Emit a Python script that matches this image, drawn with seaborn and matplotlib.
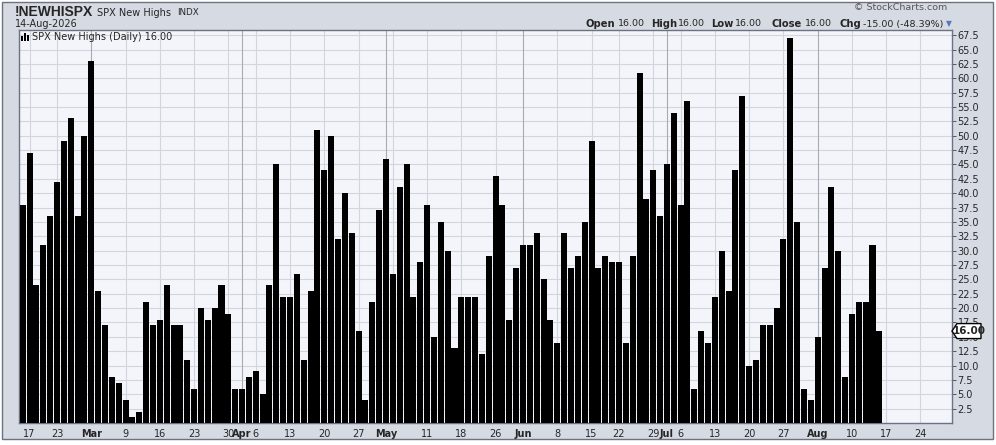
import pandas as pd
import matplotlib
matplotlib.use("Agg")
import matplotlib.pyplot as plt
import seaborn as sns
from matplotlib.patches import Rectangle, Polygon
from matplotlib.transforms import IdentityTransform

W, H = 996, 445

# trading days, NYSE holidays taken out
first_day = "2026-02-13"
last_day = "2026-08-14"
axis_end = "2026-08-28"
holidays = ["2026-02-16", "2026-04-03", "2026-05-25", "2026-06-19", "2026-07-03"]

# daily new highs, month by month
feb_highs = [38, 47, 24, 31, 36, 42, 49, 53, 36, 50]
mar_highs = [63, 23, 17, 8, 7, 4, 1, 2, 21, 17, 18, 24, 17, 17, 11, 6, 20, 18, 20, 24, 19, 6]
apr_highs = [6, 8, 9, 5, 24, 45, 22, 22, 26, 11, 23, 51, 44, 50, 32, 40, 33, 16, 4, 21, 37]
may_highs = [46, 26, 41, 45, 22, 28, 38, 15, 35, 30, 13, 22, 22, 22, 12, 29, 43, 38, 18, 27]
jun_highs = [31, 31, 33, 25, 18, 14, 33, 27, 29, 35, 49, 27, 29, 28, 28, 14, 29, 61, 39, 44, 36]
jul_highs = [45, 54, 38, 56, 6, 16, 14, 22, 30, 23, 44, 57, 10, 11, 17, 17, 20, 32, 67, 35, 6, 4]
aug_highs = [15, 27, 41, 30, 8, 19, 21, 21, 31, 16]

y_ticks = [2.5, 5, 7.5, 10, 12.5, 15, 17.5, 20, 22.5, 25, 27.5, 30, 32.5, 35, 37.5,
           40, 42.5, 45, 47.5, 50, 52.5, 55, 57.5, 60, 62.5, 65, 67.5]

quote_parts = ["Open", "16.00", "High", "16.00", "Low", "16.00", "Close", "16.00",
               "Chg", "-15.00 (-48.39%)"]
quote_x = [586, 618, 651, 678, 711, 735, 771, 805, 839, 863]

highs = feb_highs + mar_highs + apr_highs + may_highs + jun_highs + jul_highs + aug_highs
days = pd.bdate_range(first_day, axis_end, freq="C", holidays=holidays)
df = pd.DataFrame({"slot": range(len(highs)), "highs": highs, "date": days[:len(highs)]})

panel_col = "#d6dae3"
plot_col = "#f4f5fa"
frame_col = "#6d7280"


def fxy(x, y):
    # image pixel -> figure fraction
    return x / W, 1 - y / H


sns.set_style("white")
plt.rcParams["font.family"] = ["DejaVu Sans"]

fig = plt.figure(figsize=(W / 100, H / 100), dpi=100, facecolor="white")
fig.patches.append(Rectangle(fxy(2, 439), 991 / W, 437 / H, transform=fig.transFigure,
                             facecolor=panel_col, edgecolor=frame_col, lw=1, zorder=-10))

ax = fig.add_axes([19 / W, 1 - 423 / H, (952 - 19) / W, (423 - 30) / H])
ax.set_facecolor(plot_col)

sns.barplot(data=df, x="slot", y="highs", native_scale=True, color="black",
            saturation=1, width=0.88, errorbar=None, linewidth=0, ax=ax, zorder=3)

ax.set_xlim(-0.55, 135.6)
ax.set_ylim(0, 68.4)
ax.set_xlabel("")
ax.set_ylabel("")

# grid: every 2.5 across, every week start down, month starts darker
for v in y_ticks:
    ax.axhline(v, color="#d3d5dc", lw=0.8, zorder=1)

tick_pos, tick_lab, tick_bold = [], [], []
month_pos = []
for i in range(1, len(days)):
    d, p = days[i], days[i - 1]
    new_week = d.isocalendar().week != p.isocalendar().week
    if d.month != p.month:
        ax.axvline(i, color="#a8abb4", lw=0.8, zorder=1)
        tick_pos.append(i)
        tick_lab.append(d.strftime("%b"))
        tick_bold.append(True)
        month_pos.append(i)
        if new_week:
            continue
    if new_week:
        ax.axvline(i, color="#d3d5dc", lw=0.8, zorder=1)
        # no day number right next to a month name
        if month_pos and i - month_pos[-1] <= 1:
            continue
        tick_pos.append(i)
        tick_lab.append(str(d.day))
        tick_bold.append(False)

ax.set_xticks(tick_pos)
ax.set_xticklabels(tick_lab)
for lab, b in zip(ax.get_xticklabels(), tick_bold):
    if b:
        lab.set_fontweight("bold")
ax.set_xticks(range(len(days)), minor=True)
ax.tick_params(axis="x", which="major", length=3, width=0.7, color="#555", pad=1, labelsize=7)
ax.tick_params(axis="x", which="minor", length=1.5, width=0.6, color="#777")

ax.yaxis.tick_right()
ax.set_yticks(y_ticks)
ax.set_yticklabels([f"{v:.1f}" for v in y_ticks])
ax.tick_params(axis="y", length=3, width=0.7, color="#555", pad=1, labelsize=7)

for s in ax.spines.values():
    s.set_color(frame_col)
    s.set_linewidth(1)

# last value marker on the right axis
last = highs[-1]
yd = ax.transData.transform((0, last))[1]
xr = ax.transAxes.transform((1, 0))[0]
marker = Polygon([(xr, yd), (xr + 5, yd + 7.5), (xr + 29, yd + 7.5), (xr + 29, yd - 7.5), (xr + 5, yd - 7.5)],
                 closed=True, facecolor="white", edgecolor="black", lw=1,
                 transform=IdentityTransform(), zorder=10)
fig.patches.append(marker)
fig.text(xr + 17, yd, f"{last:.2f}", transform=IdentityTransform(), fontsize=7.5,
         weight="bold", ha="center", va="center", zorder=11)

# legend inside plot
for x0, y0, w, h in [(21, 36, 2, 5), (24, 33, 2, 8), (27, 35, 2, 6)]:
    fig.patches.append(Rectangle(fxy(x0, y0 + h), w / W, h / H, transform=fig.transFigure,
                                 facecolor="black", edgecolor="none", zorder=5))
fig.text(*fxy(32, 37), f"SPX New Highs (Daily) {last:.2f}", fontsize=7, va="center")

# header
fig.text(*fxy(15, 12.5), "!NEWHISPX", family=["Liberation Sans"], weight="bold", fontsize=10, va="center")
fig.text(*fxy(97, 12.5), "SPX New Highs", fontsize=7, va="center")
fig.text(*fxy(177, 12.5), "INDX", fontsize=6.3, va="center")
fig.text(*fxy(15, 24), "14-Aug-2026", fontsize=7, va="center")
fig.text(*fxy(947, 7.5), "\u00a9 StockCharts.com", fontsize=6.8, color="#555", ha="right", va="center")

for i, (txt, x) in enumerate(zip(quote_parts, quote_x)):
    fig.text(*fxy(x, 24), txt, fontsize=7.2 if i % 2 == 0 else 6.8,
             weight="bold" if i % 2 == 0 else "normal", va="center")
fig.text(*fxy(946, 24), "\u25bc", fontsize=5.5, color="#5577bb", va="center")

fig.savefig("out.png", dpi=100, facecolor=fig.get_facecolor())
